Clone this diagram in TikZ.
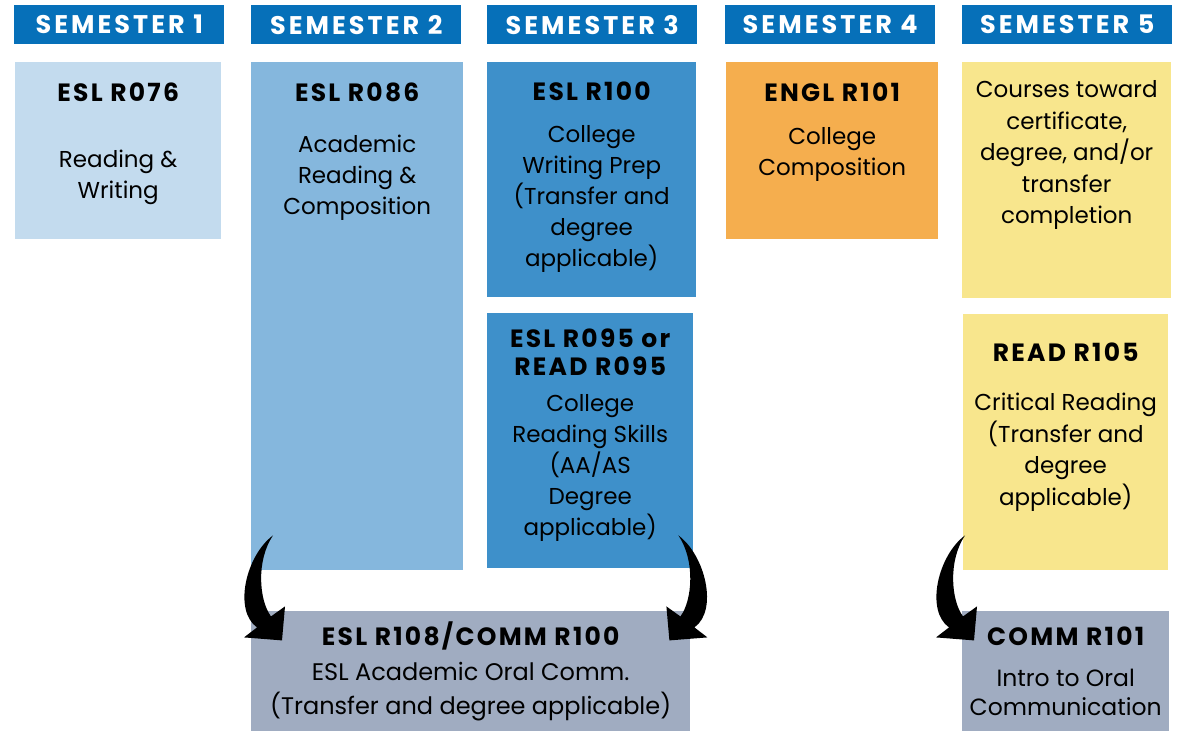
\documentclass[tikz,border=0pt]{standalone}
\usepackage{fontspec}
\setmainfont{Poppins}
\usepackage{xcolor}
\usepackage{tikz}
\usetikzlibrary{calc}

\definecolor{semblue}{RGB}{6,112,185}
\definecolor{lightblue}{RGB}{195,219,238}
\definecolor{midblue}{RGB}{133,183,221}
\definecolor{darkblue}{RGB}{62,144,202}
\definecolor{engorange}{RGB}{245,174,78}
\definecolor{paleyellow}{RGB}{248,230,141}
\definecolor{commgray}{RGB}{160,172,193}

\begin{document}
\begin{tikzpicture}
            [x=1pt, y=-1pt,
            every node/.style={rectangle, align=center, inner sep=0pt},
            semhead/.style={fill=semblue, text=white, anchor=north west,
                minimum width=210pt, minimum height=39pt,
                font=\fontsize{25.5}{30}\selectfont\bfseries\addfontfeatures{LetterSpace=12}},
            course/.style={anchor=north west},
            title/.style={font=\fontsize{25}{28}\selectfont\bfseries\addfontfeatures{LetterSpace=9}},
            body/.style={font=\fontsize{23}{31}\selectfont},
            bendarrow/.pic={
                \fill[black] (22,-35) .. controls (-5,-15) and (-18,40) .. (6,57)
                    -- (-7,67) -- (31,70) -- (34,36) -- (20,46)
                    .. controls (8,30) and (5,-10) .. cycle;
            }]

            \useasboundingbox (0,0) rectangle (1182,731);

            \node[semhead] (sem1) at (14,5) {SEMESTER 1};
            \node[semhead] (sem2) at (251,5) {SEMESTER 2};
            \node[semhead] (sem3) at (487,5) {SEMESTER 3};
            \node[semhead] (sem4) at (725,5) {SEMESTER 4};
            \node[semhead] (sem5) at (962,5) {SEMESTER 5};

            \node[course, fill=lightblue, minimum width=206pt, minimum height=177pt] (r076) at (15,62) {};
            \node[course, fill=midblue, minimum width=212pt, minimum height=508pt] (r086) at (251,62) {};
            \node[course, fill=darkblue, minimum width=209pt, minimum height=235pt] (r100) at (487,62) {};
            \node[course, fill=darkblue, minimum width=206pt, minimum height=255pt] (r095) at (487,313) {};
            \node[course, fill=engorange, minimum width=212pt, minimum height=177pt] (e101) at (726,62) {};
            \node[course, fill=paleyellow, minimum width=209pt, minimum height=236pt] (elect) at (962,62) {};
            \node[course, fill=paleyellow, minimum width=205pt, minimum height=256pt] (r105) at (963,314) {};
            \node[course, fill=commgray, minimum width=439pt, minimum height=120pt] (r108) at (251,611) {};
            \node[course, fill=commgray, minimum width=207pt, minimum height=120pt] (c101) at (962,611) {};

            \node[title] (r076t) at ($(r076.north)+(0,30)$) {ESL R076};
            \node[body] (r076b) at ($(r076.north)+(0,115)$) {Reading \&\\ Writing};

            \node[title] (r086t) at ($(r086.north)+(0,30)$) {ESL R086};
            \node[body] (r086b) at ($(r086.north)+(0,116)$) {Academic\\ Reading \&\\ Composition};

            \node[title] (r100t) at ($(r100.north)+(0,29)$) {ESL R100};
            \node[body] (r100b) at ($(r100.north)+(0,137)$) {College\\ Writing Prep\\ (Transfer and\\ degree\\ applicable)};

            \node[title] (r095t) at ($(r095.north)+(0,39)$) {ESL R095 or\\ READ R095};
            \node[body] (r095b) at ($(r095.north)+(0,155)$) {College\\ Reading Skills\\ (AA/AS\\ Degree\\ applicable)};

            \node[title] (e101t) at ($(e101.north)+(0,30)$) {ENGL R101};
            \node[body] (e101b) at ($(e101.north)+(0,92)$) {College\\ Composition};

            \node[body, font=\fontsize{23}{31.5}\selectfont] (electb) at ($(elect.north)+(0,93)$) {Courses toward\\ certificate,\\ degree, and/or\\ transfer\\ completion};

            \node[title] (r105t) at ($(r105.north)+(0,38)$) {READ R105};
            \node[body, font=\fontsize{23}{31.5}\selectfont] (r105b) at ($(r105.north)+(0,138)$) {Critical Reading\\ (Transfer and\\ degree\\ applicable)};

            \node[title] (r108t) at ($(r108.north)+(0,25)$) {ESL R108/COMM R100};
            \node[body, font=\fontsize{24}{34}\selectfont] (r108b) at ($(r108.north)+(0,81)$) {ESL Academic Oral Comm.\\ (Transfer and degree applicable)};

            \node[title] (c101t) at ($(c101.north)+(0,25)$) {COMM R101};
            \node[body, font=\fontsize{23.5}{29}\selectfont] (c101b) at ($(c101.north)+(0,81)$) {Intro to Oral\\ Communication};

            \pic at (r086.south west) {bendarrow};
            \pic[xscale=-1] at ($(r095.south east)+(7,2)$) {bendarrow};
            \pic at ($(r105.south west)+(-20,0)$) {bendarrow};
        \end{tikzpicture}
\end{document}
